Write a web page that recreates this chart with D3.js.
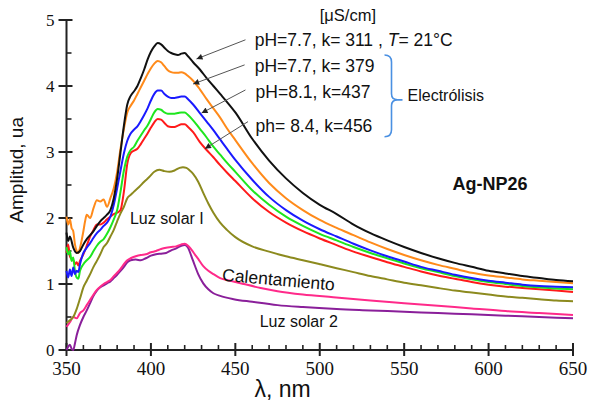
<!DOCTYPE html>
<html>
<head>
<meta charset="utf-8">
<script src="https://cdn.jsdelivr.net/npm/d3@7"></script>
<style>
  body { margin: 0; background: #fff; }
  .lab { font-family: "Liberation Sans", Arial, sans-serif; fill: #111; }
</style>
</head>
<body>
<main></main>
<script>
// wavelength (nm), amplitude (ua) pairs
const ph77k311 = [[350,1.78],[351,1.65],[352,1.72],[354,1.55],[356,1.47],[358,1.5],[360,1.6],[362,1.68],[364,1.74],[366,1.8],[368,1.88],[370,1.95],[372,2.0],[374,2.05],[376,2.12],[378,2.3],[380,2.6],[382,3.0],[384,3.4],[386,3.72],[388,3.85],[390,3.92],[392,4.0],[394,4.12],[396,4.25],[398,4.4],[400,4.52],[402,4.6],[404,4.65],[406,4.63],[408,4.58],[410,4.53],[412,4.5],[414,4.48],[416,4.47],[418,4.49],[420,4.5],[422,4.45],[425,4.36],[429,4.25],[433,4.12],[437,4.0],[441,3.88],[445,3.76],[450,3.6],[460,3.2],[470,2.87],[480,2.6],[490,2.38],[500,2.2],[510,2.06],[520,1.9],[530,1.77],[540,1.66],[550,1.56],[560,1.47],[570,1.39],[580,1.32],[590,1.26],[600,1.2],[610,1.16],[620,1.12],[630,1.09],[640,1.06],[650,1.04]];
const ph77k379 = [[350,2.02],[351,1.9],[352,1.98],[353,1.85],[354,1.8],[355,1.6],[356,1.5],[357,1.47],[358,1.55],[360,1.8],[361,1.95],[362,2.05],[364,2.0],[366,2.15],[368,2.27],[370,2.25],[372,2.28],[374,2.17],[376,2.3],[378,2.45],[380,2.7],[382,3.05],[384,3.35],[386,3.6],[388,3.7],[390,3.78],[392,3.88],[394,3.98],[396,4.08],[398,4.18],[400,4.27],[402,4.34],[404,4.38],[406,4.36],[408,4.3],[410,4.24],[412,4.21],[414,4.2],[416,4.2],[418,4.21],[420,4.19],[422,4.15],[425,4.08],[429,3.95],[433,3.8],[437,3.66],[441,3.52],[445,3.36],[450,3.18],[460,2.83],[470,2.53],[480,2.3],[490,2.12],[500,1.97],[510,1.85],[520,1.74],[530,1.63],[540,1.53],[550,1.44],[560,1.36],[570,1.29],[580,1.23],[590,1.17],[600,1.13],[610,1.1],[620,1.07],[630,1.05],[640,1.03],[650,1.01]];
const ph81k437 = [[350,1.2],[351,1.1],[352,1.22],[353,1.12],[354,1.25],[355,1.15],[356,1.2],[357,1.18],[358,1.3],[360,1.47],[362,1.55],[364,1.62],[366,1.7],[368,1.77],[370,1.82],[372,1.88],[374,1.93],[376,2.02],[378,2.2],[380,2.45],[382,2.72],[384,2.98],[386,3.17],[388,3.28],[390,3.34],[392,3.39],[394,3.47],[396,3.56],[398,3.66],[400,3.78],[402,3.88],[404,3.93],[406,3.93],[408,3.88],[410,3.84],[412,3.82],[414,3.82],[416,3.83],[418,3.84],[420,3.84],[422,3.8],[425,3.72],[429,3.59],[433,3.46],[437,3.33],[441,3.19],[445,3.05],[450,2.88],[460,2.58],[470,2.32],[480,2.12],[490,1.96],[500,1.83],[510,1.72],[520,1.61],[530,1.51],[540,1.42],[550,1.34],[560,1.26],[570,1.2],[580,1.14],[590,1.09],[600,1.05],[610,1.02],[620,0.99],[630,0.97],[640,0.96],[650,0.95]];
const greenRun = [[350,1.56],[351,1.45],[352,1.5],[353,1.35],[354,1.4],[355,1.2],[356,1.1],[357,1.08],[358,1.2],[360,1.3],[362,1.36],[364,1.41],[366,1.5],[368,1.58],[370,1.64],[372,1.68],[374,1.76],[376,1.86],[378,1.98],[380,2.12],[382,2.4],[384,2.72],[386,2.93],[388,3.03],[390,3.08],[392,3.17],[394,3.25],[396,3.33],[398,3.4],[400,3.5],[402,3.6],[404,3.65],[406,3.64],[408,3.6],[410,3.58],[412,3.58],[414,3.58],[416,3.59],[418,3.6],[420,3.6],[422,3.56],[425,3.48],[429,3.35],[433,3.22],[437,3.08],[441,2.96],[445,2.84],[450,2.7],[460,2.42],[470,2.2],[480,2.02],[490,1.88],[500,1.76],[510,1.66],[520,1.56],[530,1.47],[540,1.39],[550,1.31],[560,1.24],[570,1.18],[580,1.12],[590,1.07],[600,1.03],[610,1.0],[620,0.97],[630,0.95],[640,0.93],[650,0.92]];
const ph84k456 = [[350,1.47],[351,1.6],[352,1.42],[353,1.38],[354,1.36],[355,1.3],[356,1.33],[357,1.28],[358,1.35],[360,1.45],[362,1.58],[364,1.72],[366,1.82],[368,1.9],[370,1.9],[372,1.93],[374,1.98],[376,2.02],[378,2.06],[380,2.08],[382,2.12],[384,2.4],[386,2.82],[388,2.98],[390,3.02],[392,3.05],[394,3.12],[396,3.2],[398,3.28],[400,3.37],[402,3.45],[404,3.5],[406,3.49],[408,3.44],[410,3.39],[412,3.38],[414,3.38],[416,3.4],[418,3.42],[420,3.42],[422,3.38],[425,3.3],[429,3.15],[433,3.03],[437,2.92],[441,2.8],[445,2.69],[450,2.56],[460,2.3],[470,2.09],[480,1.93],[490,1.8],[500,1.69],[510,1.59],[520,1.49],[530,1.41],[540,1.33],[550,1.26],[560,1.19],[570,1.13],[580,1.08],[590,1.03],[600,0.99],[610,0.96],[620,0.94],[630,0.92],[640,0.9],[650,0.88]];
const luzSolar1 = [[350,0.41],[352,0.45],[354,0.5],[356,0.62],[358,0.78],[360,0.95],[362,1.05],[364,1.15],[366,1.26],[368,1.35],[370,1.45],[372,1.56],[374,1.62],[376,1.72],[378,1.82],[380,1.95],[382,2.07],[384,2.17],[386,2.3],[388,2.35],[390,2.4],[393,2.47],[396,2.55],[399,2.62],[402,2.7],[405,2.73],[408,2.71],[411,2.7],[414,2.72],[417,2.76],[419,2.77],[421,2.76],[423,2.72],[425,2.67],[428,2.55],[431,2.38],[434,2.22],[437,2.08],[441,1.93],[445,1.82],[450,1.71],[460,1.57],[470,1.49],[480,1.42],[490,1.36],[500,1.3],[510,1.24],[520,1.18],[530,1.12],[540,1.07],[550,1.02],[560,0.98],[570,0.94],[580,0.9],[590,0.87],[600,0.84],[610,0.81],[620,0.79],[630,0.77],[640,0.75],[650,0.74]];
const calentamiento = [[350,0.35],[352,0.42],[354,0.5],[356,0.48],[358,0.56],[360,0.6],[362,0.68],[364,0.76],[366,0.84],[368,0.91],[370,0.96],[372,1.0],[374,1.03],[376,1.06],[378,1.12],[380,1.17],[382,1.23],[384,1.3],[386,1.36],[388,1.39],[391,1.42],[394,1.44],[397,1.45],[400,1.48],[403,1.5],[406,1.53],[409,1.55],[412,1.56],[415,1.57],[418,1.6],[420,1.61],[422,1.58],[424,1.52],[426,1.45],[428,1.38],[431,1.27],[434,1.2],[437,1.15],[441,1.09],[447,1.05],[455,1.0],[465,0.94],[475,0.89],[490,0.84],[508,0.8],[530,0.75],[550,0.71],[570,0.67],[590,0.63],[610,0.59],[630,0.56],[650,0.53]];
const luzSolar2 = [[350,0.0],[351,0.05],[352,0.08],[353,0.02],[354,0.0],[355,0.1],[356,0.22],[358,0.38],[360,0.5],[362,0.6],[364,0.71],[366,0.82],[368,0.9],[370,0.95],[372,0.98],[374,1.01],[376,1.04],[378,1.09],[380,1.14],[382,1.2],[384,1.26],[386,1.33],[388,1.36],[391,1.37],[394,1.36],[397,1.39],[400,1.43],[403,1.45],[406,1.46],[409,1.47],[412,1.51],[415,1.54],[418,1.58],[420,1.59],[422,1.55],[424,1.42],[426,1.28],[428,1.15],[431,1.01],[434,0.92],[437,0.86],[441,0.82],[449,0.77],[460,0.73],[475,0.68],[490,0.65],[510,0.62],[530,0.6],[550,0.58],[570,0.56],[590,0.54],[610,0.52],[630,0.5],[650,0.48]];

const seriesNames = ["Luz solar 2", "Calentamiento", "Luz solar I", "ph=8.4 k=456", "green", "pH=8.1 k=437", "pH=7.7 k=379", "pH=7.7 k=311"];
const seriesData = [luzSolar2, calentamiento, luzSolar1, ph84k456, greenRun, ph81k437, ph77k379, ph77k311];
const seriesColors = ["#8a1f9a", "#ff2a8a", "#8c8a1e", "#ff1a1a", "#1ee61e", "#1a1aff", "#ff8a1a", "#111111"];

const xTicks = [350, 400, 450, 500, 550, 600, 650];
const yTicks = [0, 1, 2, 3, 4, 5];

const width = 589, height = 406;
const margin = { top: 20, right: 16, bottom: 56, left: 66.5 };

const svg = d3.select('main').append('svg')
    .attr('width', width).attr('height', height);

const x = d3.scaleLinear().domain([350, 650]).range([margin.left, width - margin.right]);
const y = d3.scaleLinear().domain([0, 5]).range([height - margin.bottom, margin.top]);

// axes: major ticks cross the axis, minor ones point inward
const xMinor = d3.range(350, 651, 10).filter((d) => d % 50 !== 0);
const yMinor = d3.range(0.5, 5, 1);

const gx = svg.append('g').attr('transform', `translate(0,${y(0)})`);
gx.append('line').attr('x1', x(350)).attr('x2', x(650)).attr('stroke', '#222').attr('stroke-width', 2);
gx.selectAll('.mj').data(xTicks).enter().append('line')
    .attr('x1', (d) => x(d)).attr('x2', (d) => x(d)).attr('y1', -7).attr('y2', 6)
    .attr('stroke', '#222').attr('stroke-width', 2);
gx.selectAll('.mn').data(xMinor).enter().append('line')
    .attr('x1', (d) => x(d)).attr('x2', (d) => x(d)).attr('y1', -5).attr('y2', 0)
    .attr('stroke', '#222').attr('stroke-width', 1.6);
gx.selectAll('text').data(xTicks).enter().append('text')
    .attr('x', (d) => x(d)).attr('y', 25)
    .attr('text-anchor', 'middle')
    .style('font-family', '"Liberation Serif", serif').style('font-size', '19px').style('fill', '#111')
    .text((d) => d);

const gy = svg.append('g').attr('transform', `translate(${x(350)},0)`);
gy.append('line').attr('y1', y(0)).attr('y2', y(5)).attr('stroke', '#222').attr('stroke-width', 2);
gy.selectAll('.mj').data(yTicks).enter().append('line')
    .attr('y1', (d) => y(d)).attr('y2', (d) => y(d)).attr('x1', -8).attr('x2', 6)
    .attr('stroke', '#222').attr('stroke-width', 2);
gy.selectAll('.mn').data(yMinor).enter().append('line')
    .attr('y1', (d) => y(d)).attr('y2', (d) => y(d)).attr('x1', 0).attr('x2', 5)
    .attr('stroke', '#222').attr('stroke-width', 1.6);
gy.selectAll('text').data(yTicks).enter().append('text')
    .attr('x', -12).attr('y', (d) => y(d)).attr('dy', '0.34em')
    .attr('text-anchor', 'end')
    .style('font-family', '"Liberation Serif", serif').style('font-size', '17px').style('fill', '#111')
    .text((d) => d);

// axis titles
svg.append('text').attr('class', 'lab')
    .attr('transform', `translate(23,${y(2.73)})rotate(-90)`)
    .attr('text-anchor', 'middle').style('font-size', '19px')
    .text('Amplitud, ua');
svg.append('text').attr('class', 'lab')
    .attr('x', x(478)).attr('y', 397)
    .attr('text-anchor', 'middle').style('font-size', '23px')
    .text('λ, nm');

// curves
const line = d3.line()
    .x((d) => x(d[0]))
    .y((d) => y(d[1]))
    .curve(d3.curveMonotoneX);

svg.append('g').selectAll('path')
    .data(seriesData).enter()
    .append('path')
    .attr('d', line)
    .attr('fill', 'none')
    .attr('stroke', (d, i) => seriesColors[i])
    .attr('stroke-width', 2)
    .attr('stroke-linejoin', 'round');

// annotations (positions in data units)
const labels = [
    { t: '[μS/cm]', at: [500, 4.99], s: 16.5 },
    { t: 'pH=7.7, k= 379', at: [461.5, 4.21], s: 17.5 },
    { t: 'pH=8.1, k=437', at: [462, 3.82], s: 17.5 },
    { t: 'ph= 8.4, k=456', at: [462, 3.3], s: 17.5 },
    { t: 'Electrólisis', at: [552, 3.77], s: 16 },
    { t: 'Luz solar I', at: [387.6, 1.91], s: 16 },
    { t: 'Luz solar 2', at: [464.4, 0.35], s: 16 }
];
svg.append('g').selectAll('text').data(labels).enter().append('text')
    .attr('class', 'lab').style('font-size', (d) => d.s + 'px')
    .attr('x', (d) => x(d.at[0])).attr('y', (d) => y(d.at[1]))
    .text((d) => d.t);

const first = svg.append('text').attr('class', 'lab').style('font-size', '17.5px')
    .attr('x', x(461.5)).attr('y', y(4.61));
first.append('tspan').text('pH=7.7, k= 311 , ');
first.append('tspan').style('font-style', 'italic').text('T');
first.append('tspan').text('= 21°C');

svg.append('text').attr('class', 'lab')
    .attr('transform', `translate(${x(442)},${y(1.05)})rotate(5)`)
    .style('font-size', '17.5px')
    .text('Calentamiento');

svg.append('text').attr('class', 'lab')
    .attr('x', x(578.7)).attr('y', y(2.42))
    .style('font-size', '18px').style('font-weight', 'bold')
    .text('Ag-NP26');

// arrows from labels to curves
svg.append('defs').append('marker')
    .attr('id', 'ah').attr('viewBox', '0 0 10 10')
    .attr('refX', 10).attr('refY', 5)
    .attr('markerWidth', 9).attr('markerHeight', 6).attr('markerUnits', 'userSpaceOnUse')
    .attr('orient', 'auto')
    .append('path').attr('d', 'M0,0L10,5L0,10z').attr('fill', '#222');

const arrows = [
    { from: [456, 4.7], to: [427, 4.41] },
    { from: [455.5, 4.32], to: [425, 4.03] },
    { from: [456, 3.94], to: [430, 3.59] },
    { from: [457.5, 3.46], to: [432, 3.05] }
];
svg.append('g').selectAll('line').data(arrows).enter().append('line')
    .attr('x1', (d) => x(d.from[0])).attr('y1', (d) => y(d.from[1]))
    .attr('x2', (d) => x(d.to[0])).attr('y2', (d) => y(d.to[1]))
    .attr('stroke', '#555').attr('stroke-width', 1)
    .attr('marker-end', 'url(#ah)');

// brace grouping the electrolysis runs
const bx = x(542.5), by0 = y(4.47), by1 = y(3.23), bm = y(3.79);
svg.append('path')
    .attr('d', `M${bx - 7},${by0} Q${bx},${by0} ${bx},${by0 + 7} L${bx},${bm - 6} Q${bx},${bm} ${bx + 6},${bm} L${bx + 11},${bm}
                M${bx + 6},${bm} Q${bx},${bm} ${bx},${bm + 6} L${bx},${by1 - 7} Q${bx},${by1} ${bx - 7},${by1}`)
    .attr('fill', 'none').attr('stroke', '#4a90e2').attr('stroke-width', 1.6);
</script>
</body>
</html>
